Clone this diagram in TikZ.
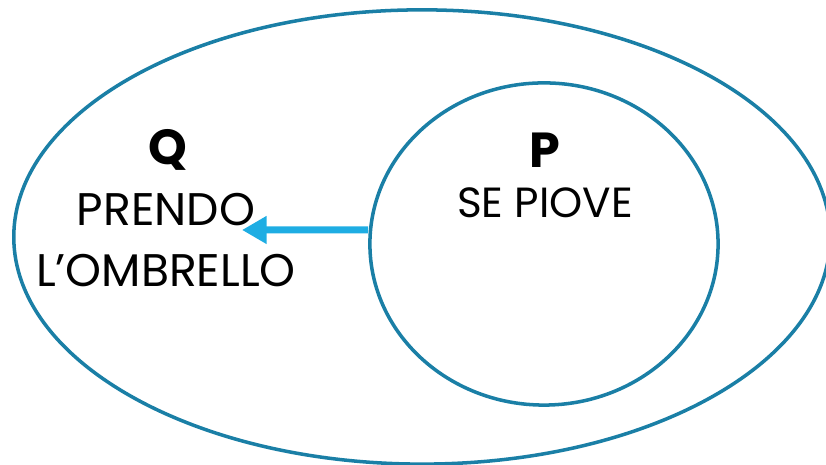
\documentclass[tikz,border=0pt]{standalone}
\usepackage{fontspec}
\setmainfont{Poppins}
\usepackage{xcolor}
\usepackage{tikz}
\usetikzlibrary{shapes.geometric,arrows.meta}
\definecolor{rim}{HTML}{1A7FA6}
\definecolor{sky}{HTML}{1EADE3}
\definecolor{ink}{HTML}{000000}
\tikzset{
  set/.style={ellipse, draw=rim, line width=1pt, inner sep=0pt},
  imp/.style={draw=sky, line width=2pt, -{Triangle[length=7pt,width=7.5pt]}},
  tag/.style={text=ink, font=\fontsize{14}{16}\selectfont\bfseries},
  lab/.style={text=ink, font=\fontsize{13}{17.5}\selectfont, align=center},
}
\begin{document}
\begin{tikzpicture}[x=0.01cm, y=-0.01cm]
  \useasboundingbox (0,0) rectangle (826,465);
  \node[set, minimum width=8.16cm, minimum height=4.54cm] (outer) at (422,237) {};
  \node[set, minimum width=3.48cm, minimum height=3.22cm] (inner) at (544,244) {};
  % labels of the two sets
  \node[tag] (q) at (168,150) {Q};
  \node[lab] (qtext) at (166,240) {PRENDO\\L’OMBRELLO};
  \node[tag] (p) at (545,150) {P};
  \node[lab, font=\fontsize{12}{16}\selectfont] (ptext) at (545,203) {SE PIOVE};
  \coordinate (tip) at (242,230);
  \draw[imp] ([yshift=0.14cm]inner.west) -- (tip);
\end{tikzpicture}
\end{document}
